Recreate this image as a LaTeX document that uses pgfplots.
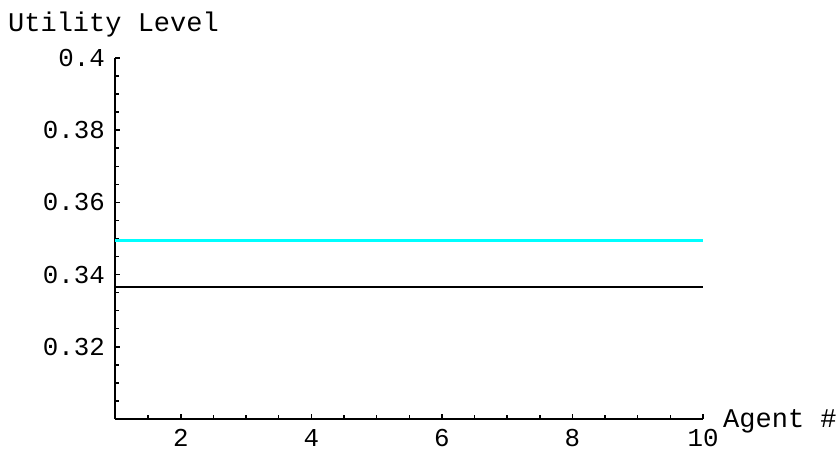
\documentclass[border=0pt]{standalone}
\usepackage{fontspec}
\setmainfont{Liberation Mono}
\usepackage{pgfplots}
\pgfplotsset{compat=1.18}
\definecolor{cyanline}{RGB}{0,255,255}
\begin{document}
\begin{tikzpicture}
\useasboundingbox (-115.5pt,-33pt) rectangle (721.5pt,419pt);
\begin{axis}[
  scale only axis, width=587.5pt, height=361pt,
  xmin=1, xmax=10, ymin=0.3, ymax=0.4,
  axis lines=left, axis line style={-, line width=2pt, black},
  tick align=inside,
  xtick={2,4,6,8,10}, xticklabels={2,4,6,8,10},
  minor xtick={1.5,2,...,10},
  ytick={0.32,0.34,0.36,0.38,0.4}, yticklabels={0.32,0.34,0.36,0.38,0.4},
  minor ytick={0.305,0.31,0.315,0.32,0.325,0.33,0.335,0.34,0.345,0.35,0.355,0.36,0.365,0.37,0.375,0.38,0.385,0.39,0.395},
  major tick length=5pt, minor tick length=4pt,
  tick style={line width=1.5pt, black},
  /pgf/number format/assume math mode=true,
  ticklabel style={font=\fontsize{25.8}{30}\selectfont, inner sep=0pt},
  xticklabel style={anchor=base, yshift=-27pt},
  yticklabel style={anchor=east, xshift=-10.5pt},
  clip=false,
]
\addplot[cyanline, line width=2.4pt] coordinates {(1,0.3494) (2,0.3494) (3,0.3494) (4,0.3494) (5,0.3494) (6,0.3494) (7,0.3494) (8,0.3494) (9,0.3494) (10,0.3494)};
\addplot[black, line width=2.4pt] coordinates {(1,0.3366) (2,0.3366) (3,0.3366) (4,0.3366) (5,0.3366) (6,0.3366) (7,0.3366) (8,0.3366) (9,0.3366) (10,0.3366)};
\end{axis}
\node[anchor=base west, inner sep=0pt, font=\fontsize{27}{32}\selectfont] at (-107.5pt,387pt) {Utility Level};
\node[anchor=base west, inner sep=0pt, font=\fontsize{27}{32}\selectfont] at (607.5pt,-8pt) {Agent \#};
\end{tikzpicture}
\end{document}
